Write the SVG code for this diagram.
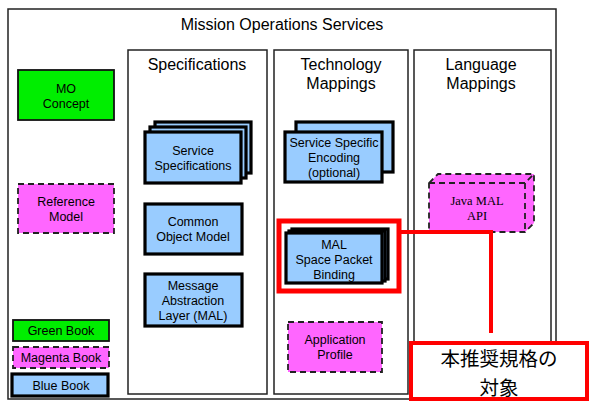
<svg xmlns="http://www.w3.org/2000/svg" width="590" height="401" viewBox="0 0 590 401">
<style>
text{font-family:"Liberation Sans",Arial,sans-serif;fill:#000;text-anchor:middle}
.frame{fill:#fff;stroke:#222;stroke-width:1.5}
.green{fill:#00ee00;stroke:#111;stroke-width:1.8}
.mag{fill:#ff66ff;stroke:#222;stroke-width:1.8;stroke-dasharray:6 4}
.blue{fill:#99ccff;stroke:#000;stroke-width:3.2}
.lbl{font-size:12.5px}
.head{font-size:16px}
.serif{font-family:"Liberation Serif","Times New Roman",serif;font-size:12.5px}
.red{fill:none;stroke:#ff0000;stroke-width:5}
.cjk{font-family:"Noto Sans CJK JP",sans-serif;font-size:19.5px}
</style>
<g id="outer">
<rect class="frame" x="8" y="9" width="548" height="390"/>
<text x="282" y="30" style="font-size:16px">Mission Operations Services</text>
</g>
<g id="col-spec">
<rect class="frame" x="128" y="50" width="139" height="344"/>
<text class="head" x="197" y="70">Specifications</text>
</g>
<g id="col-tech">
<rect class="frame" x="274" y="50" width="134" height="344"/>
<text class="head" x="341" y="70">Technology</text>
<text class="head" x="341" y="89">Mappings</text>
</g>
<g id="col-lang">
<rect class="frame" x="414" y="50" width="137" height="344"/>
<text class="head" x="481" y="70">Language</text>
<text class="head" x="481" y="89">Mappings</text>
</g>
<g id="mo-concept">
<rect class="green" x="18" y="70" width="96" height="50"/>
<text class="lbl" x="66" y="93">MO</text>
<text class="lbl" x="66" y="108">Concept</text>
</g>
<g id="reference-model">
<rect class="mag" x="18" y="184" width="96" height="49"/>
<text class="lbl" x="66" y="206">Reference</text>
<text class="lbl" x="66" y="221">Model</text>
</g>
<g id="legend-green">
<rect class="green" x="13" y="320" width="96" height="21"/>
<text class="lbl" x="61" y="335">Green Book</text>
</g>
<g id="legend-magenta">
<rect class="mag" x="13" y="347" width="96" height="21"/>
<text class="lbl" x="61" y="362">Magenta Book</text>
</g>
<g id="legend-blue">
<rect class="blue" x="12" y="374" width="96" height="22"/>
<text class="lbl" x="61" y="390">Blue Book</text>
</g>
<g id="service-specifications">
<rect class="blue" x="155" y="122" width="96" height="51"/>
<rect class="blue" x="150" y="127" width="96" height="51"/>
<rect class="blue" x="145" y="132" width="96" height="51"/>
<text class="lbl" x="193" y="155">Service</text>
<text class="lbl" x="193" y="170">Specifications</text>
</g>
<g id="common-object-model">
<rect class="blue" x="145" y="204" width="97" height="50"/>
<text class="lbl" x="193" y="226">Common</text>
<text class="lbl" x="193" y="241">Object Model</text>
</g>
<g id="mal">
<rect class="blue" x="145" y="274" width="97" height="52"/>
<text class="lbl" x="193" y="290">Message</text>
<text class="lbl" x="193" y="305">Abstraction</text>
<text class="lbl" x="193" y="320">Layer (MAL)</text>
</g>
<g id="service-specific-encoding">
<rect class="blue" x="296" y="122" width="97" height="50"/>
<rect class="blue" x="285" y="132" width="97" height="50"/>
<text class="lbl" x="334" y="147">Service Specific</text>
<text class="lbl" x="334" y="162">Encoding</text>
<text class="lbl" x="334" y="177">(optional)</text>
</g>
<g id="mal-space-packet-binding">
<rect class="blue" x="292" y="229" width="96" height="50"/>
<rect class="blue" x="289" y="231" width="96" height="50"/>
<rect class="blue" x="286" y="233" width="96" height="50"/>
<text class="lbl" x="334" y="249">MAL</text>
<text class="lbl" x="334" y="264">Space Packet</text>
<text class="lbl" x="334" y="279">Binding</text>
<rect class="red" x="279" y="221" width="120" height="70"/>
</g>
<g id="application-profile">
<rect class="mag" x="288" y="322" width="94" height="50"/>
<text class="lbl" x="335" y="344">Application</text>
<text class="lbl" x="335" y="359">Profile</text>
</g>
<g id="java-mal-api">
<path class="mag" d="M429,183 L438,174 L534,174 L534,223 L525,232 L429,232 Z"/>
<path class="mag" style="fill:none" d="M429,183 L525,183 L534,174 M525,183 L525,232"/>
<text class="serif" x="477" y="205">Java MAL</text>
<text class="serif" x="477" y="220">API</text>
</g>
<g id="connectors">
<path d="M399,232 L491,232 L491,333" fill="none" stroke="#ff0000" stroke-width="4"/>
</g>
<g id="callout">
<rect x="411" y="343" width="176" height="56" fill="#fff" stroke="#ff0000" stroke-width="4"/>
<text class="cjk" x="499" y="366">本推奨規格の</text>
<text class="cjk" x="499" y="395">対象</text>
</g>
</svg>
